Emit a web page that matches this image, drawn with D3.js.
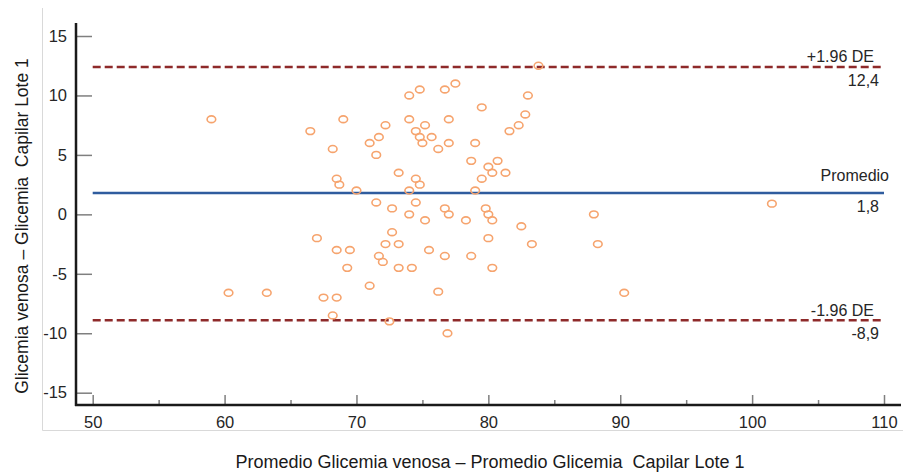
<!doctype html>
<html>
<head>
<meta charset="utf-8"/>
<title>Bland-Altman Glicemia</title>
<script src="https://d3js.org/d3.v7.min.js"></script>
<style>
body{margin:0;background:#fff;}
svg text{font-family:"Liberation Sans",Arial,sans-serif;}
</style>
</head>
<body>
<script>
// promedio (x) y diferencia (y) de cada paciente
var promedio = [59.0,60.3,63.2,66.5,69.0,68.2,71.5,71.0,71.7,72.2,74.0,74.8,76.7,77.5,83.8,83.0,79.5,82.8,82.3,81.6,
  74.0,77.0,75.2,74.5,74.8,75.7,75.0,77.0,76.2,79.0,78.7,80.7,80.0,80.3,81.3,79.5,79.0,73.2,74.5,74.8,
  68.5,68.7,70.0,74.0,71.5,72.7,74.5,74.0,75.2,76.7,77.0,78.3,79.8,80.0,80.3,82.5,67.0,72.7,80.0,83.3,
  72.2,73.2,68.5,69.5,75.5,71.7,72.0,69.3,73.2,74.2,76.7,78.7,80.3,71.0,67.5,68.5,76.2,68.2,72.5,76.9,
  88.0,88.3,90.3,101.5];
var diferencia = [8.0,-6.6,-6.6,7.0,8.0,5.5,5.0,6.0,6.5,7.5,10.0,10.5,10.5,11.0,12.5,10.0,9.0,8.4,7.5,7.0,
  8.0,8.0,7.5,7.0,6.5,6.5,6.0,6.0,5.5,6.0,4.5,4.5,4.0,3.5,3.5,3.0,2.0,3.5,3.0,2.5,
  3.0,2.5,2.0,2.0,1.0,0.5,1.0,0.0,-0.5,0.5,0.0,-0.5,0.5,0.0,-0.5,-1.0,-2.0,-1.5,-2.0,-2.5,
  -2.5,-2.5,-3.0,-3.0,-3.0,-3.5,-4.0,-4.5,-4.5,-4.5,-3.5,-3.5,-4.5,-6.0,-7.0,-7.0,-6.5,-8.5,-9.0,-10.0,
  0.0,-2.5,-6.6,0.9];

// lineas de referencia
var lineValues = [12.4, 1.8, -8.9];
var lineNames = ["+1.96 DE", "Promedio", "-1.96 DE"];
var lineLabels = ["12,4", "1,8", "-8,9"];

var xTicks = [50,60,70,80,90,100,110];
var xMinorTicks = [55,65,75,85,95,105];
var yTicks = [15,10,5,0,-5,-10,-15];

var xTitle = "Promedio Glicemia venosa \u2013 Promedio Glicemia  Capilar Lote 1";
var yTitle = "Glicemia venosa \u2013 Glicemia  Capilar Lote 1";

var W = 912, H = 472;
var svg = d3.select("body").append("svg").attr("width", W).attr("height", H);

var x = d3.scaleLinear().domain([50,110]).range([92.7,884]);
var y = d3.scaleLinear().domain([-15,15]).range([392.7,36]);

var axX = 76, axY = 405;

// marco gris del area
svg.append("path")
  .attr("d", "M42.5,8 V430.5 H903")
  .attr("fill","none").attr("stroke","#d9d9d9").attr("stroke-width",1);

// eje Y
var gy = svg.append("g").attr("transform","translate("+axX+",0)")
  .call(d3.axisLeft(y).tickValues(yTicks).tickSize(-16).tickPadding(9).tickFormat(d3.format("d")));
gy.select(".domain").remove();
gy.selectAll("line").attr("stroke","#7f7f7f").attr("stroke-width",1.5);
gy.selectAll("text").attr("font-size",16.5).attr("fill","#262626")
  .text(function(d){ return d < 0 ? "-" + Math.abs(d) : d; });

// eje X
var gx = svg.append("g").attr("transform","translate(0,"+axY+")")
  .call(d3.axisBottom(x).tickValues(xTicks).tickSize(-10).tickPadding(11).tickFormat(d3.format("d")));
gx.select(".domain").remove();
gx.selectAll("line").attr("stroke","#7f7f7f").attr("stroke-width",1.5);
gx.selectAll("text").attr("font-size",16.5).attr("fill","#262626");

var gxm = svg.append("g").attr("transform","translate(0,"+axY+")")
  .call(d3.axisBottom(x).tickValues(xMinorTicks).tickSize(-5).tickFormat(""));
gxm.select(".domain").remove();
gxm.selectAll("line").attr("stroke","#7f7f7f").attr("stroke-width",1.5);

// lineas de los ejes
svg.append("line").attr("x1",axX).attr("x2",axX).attr("y1",23).attr("y2",axY+1)
  .attr("stroke","#1a1a1a").attr("stroke-width",2.5);
svg.append("line").attr("x1",axX-1).attr("x2",901).attr("y1",axY).attr("y2",axY)
  .attr("stroke","#1a1a1a").attr("stroke-width",2.5);

// lineas de referencia
svg.selectAll(".ref")
  .data(lineValues)
  .enter()
  .append("line")
  .attr("x1", x(50)).attr("x2", x(110))
  .attr("y1", function(d){ return y(d); })
  .attr("y2", function(d){ return y(d); })
  .attr("stroke", function(d,i){ return i == 1 ? "#2f5c9e" : "#8e2a2a"; })
  .attr("stroke-width", 2.5)
  .attr("stroke-dasharray", function(d,i){ return i == 1 ? null : "8,4"; });

// puntos
svg.selectAll(".pt")
  .data(promedio)
  .enter()
  .append("ellipse")
  .attr("cx", function(d){ return x(d); })
  .attr("cy", function(d,i){ return y(diferencia[i]); })
  .attr("rx", 4.3).attr("ry", 3.4)
  .attr("fill", "none")
  .attr("stroke", "#f6a46e")
  .attr("stroke-width", 1.6);

// etiquetas de las lineas
svg.selectAll(".lname")
  .data(lineValues)
  .enter()
  .append("text")
  .attr("x", function(d,i){ return i == 1 ? x(110)+5 : x(110)-10; })
  .attr("y", function(d,i){ return y(d) - (i == 1 ? 12 : 4.5); })
  .attr("text-anchor","end").attr("font-size",16).attr("fill","#262626")
  .text(function(d,i){ return lineNames[i]; });

svg.selectAll(".lval")
  .data(lineValues)
  .enter()
  .append("text")
  .attr("x", x(110)-5)
  .attr("y", function(d){ return y(d) + 19; })
  .attr("text-anchor","end").attr("font-size",16).attr("fill","#262626")
  .text(function(d,i){ return lineLabels[i]; });

// titulos
svg.append("text")
  .attr("x", 490).attr("y", 467.5)
  .attr("text-anchor","middle").attr("font-size",18).attr("fill","#1a1a1a")
  .style("white-space","pre")
  .text(xTitle);

svg.append("text")
  .attr("transform","translate(28,226) rotate(-90)")
  .attr("text-anchor","middle").attr("font-size",17.5).attr("fill","#1a1a1a")
  .style("white-space","pre")
  .text(yTitle);
</script>
</body>
</html>
